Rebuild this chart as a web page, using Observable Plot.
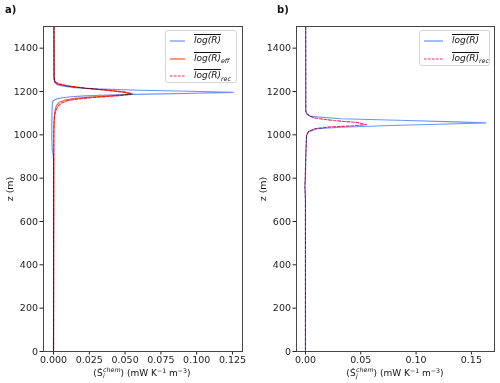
<!DOCTYPE html>
<html>
<head>
<meta charset="utf-8">
<script src="https://cdn.jsdelivr.net/npm/d3@7"></script>
<script src="https://cdn.jsdelivr.net/npm/@observablehq/plot@0.6"></script>
<style>
  body { margin: 0; background: #fff; }
  #fig { position: relative; width: 500px; height: 383px; overflow: hidden;
         font-family: "DejaVu Sans", sans-serif; color: #111; }
  #fig svg { position: absolute; top: 0; }
  .txt { position: absolute; white-space: nowrap; line-height: 1; }
  .panel { font-weight: bold; font-size: 10px; }
  .ylab { font-size: 9.5px; transform: translate(-50%, -50%) rotate(-90deg); }
  .xlab { font-size: 9px; transform: translateX(-50%); }
  .stack { display: inline-flex; flex-direction: column; vertical-align: middle;
           font-size: 6.3px; font-style: italic; line-height: 0.95; margin-left: 0.5px; position: relative; top: -1px; }
  .sup { font-size: 6.3px; position: relative; top: -3.5px; }
  .legend { position: absolute; background: rgba(255,255,255,0.85); border: 1px solid #d6d6d6;
            border-radius: 3px; box-sizing: border-box; }
  .entry { position: absolute; white-space: nowrap; font-size: 9px; line-height: 1; }
  .entry svg { position: absolute; top: 0; }
  .ov { font-style: italic; text-decoration: overline; }
  .sb { font-style: italic; font-size: 6.3px; position: relative; top: 2.5px; }
</style>
</head>
<body>
<div id="fig"></div>
<script>
// ---- Panel a: heating-rate profiles (z in m, values in mW K^-1 m^-3)
const aLogR_z = [1500, 1300, 1250, 1240, 1232, 1225, 1218, 1212, 1206, 1201, 1196, 1192, 1188, 1184, 1180, 1176, 1170, 1165, 1158, 1150, 1120, 1050, 980, 930, 910, 890, 0];
const aLogR_v = [0.0003, 0.0003, 0.0005, 0.001, 0.0025, 0.007, 0.015, 0.03, 0.06, 0.095, 0.1255, 0.1, 0.065, 0.038, 0.022, 0.012, 0.005, 0.002, 0.0, -0.0008, -0.001, -0.0012, -0.0012, -0.0009, -0.0003, 0, 0];

const aEff_z = [1500, 1260, 1245, 1235, 1225, 1215, 1205, 1197, 1190, 1185, 1180, 1174, 1168, 1160, 1150, 1135, 1110, 1080, 1000, 0];
const aEff_v = [0.0003, 0.0004, 0.001, 0.003, 0.01, 0.022, 0.038, 0.049, 0.054, 0.05, 0.04, 0.026, 0.015, 0.008, 0.004, 0.002, 0.001, 0.0005, 0.0002, 0];

const aRec_z = [1500, 1260, 1245, 1235, 1225, 1215, 1205, 1197, 1189, 1184, 1179, 1173, 1166, 1158, 1148, 1135, 1115, 1090, 1050, 1000, 0];
const aRec_v = [0.0003, 0.0004, 0.0012, 0.0035, 0.011, 0.023, 0.039, 0.05, 0.055, 0.051, 0.042, 0.029, 0.018, 0.01, 0.006, 0.0035, 0.0018, 0.0008, 0.0003, 0.0002, 0];

// ---- Panel b
const bLogR_z = [1500, 1110, 1097, 1085, 1074, 1066, 1060, 1055, 1051, 1043, 1035, 1028, 1015, 997, 900, 800, 760, 700, 0];
const bLogR_v = [0.0002, 0.0003, 0.001, 0.0045, 0.032, 0.092, 0.135, 0.163, 0.137, 0.077, 0.032, 0.0105, 0.003, 0.001, 0.0003, 0, -0.0005, 0, 0];

const bRec_z = [1500, 1110, 1100, 1090, 1078, 1066, 1057, 1047, 1041, 1037, 1029, 1017, 1000, 900, 760, 700, 0];
const bRec_v = [0.0002, 0.0003, 0.001, 0.003, 0.0075, 0.025, 0.047, 0.055, 0.041, 0.023, 0.009, 0.003, 0.001, 0.0003, -0.0005, 0, 0];

// ---- Ticks
const zTicks = [0, 200, 400, 600, 800, 1000, 1200, 1400];
const aTicks = [0, 0.025, 0.05, 0.075, 0.1, 0.125];
const bTicks = [0, 0.05, 0.10, 0.15];

const COL_LOGR = "#6f93f2";
const COL_EFF = "#ff5a22";
const COL_REC = "#e6306e";

const fig = document.getElementById("fig");

function profile(vals, zs, stroke, dashed) {
  return Plot.line(vals, {
    x: d => d,
    y: (d, i) => zs[i],
    stroke,
    strokeWidth: dashed ? 1.1 : 1.15,
    strokeDasharray: dashed ? "3,1.6" : null,
    mixBlendMode: "multiply"
  });
}

function panel({left, marginLeft, marginRight, xDomain, xTicks, xFormat, lines}) {
  const svg = Plot.plot({
    width: 250,
    height: 383,
    marginLeft,
    marginRight,
    marginTop: 26,
    marginBottom: 32,
    style: { fontFamily: "DejaVu Sans, sans-serif", fontSize: "9.5px", background: "transparent", color: "#222" },
    x: { domain: xDomain, ticks: xTicks, tickFormat: xFormat, tickSize: 3.5, tickPadding: 1.5, label: null },
    y: { domain: [0, 1500], ticks: zTicks, tickFormat: d3.format("d"), tickSize: 3.5, tickPadding: 2, label: null },
    marks: [
      ...lines,
      Plot.frame({ stroke: "#444", strokeWidth: 1 })
    ]
  });
  svg.style.left = left + "px";
  fig.appendChild(svg);
}

panel({
  left: 0, marginLeft: 43, marginRight: 8,
  xDomain: [-0.007, 0.132], xTicks: aTicks, xFormat: d3.format(".3f"),
  lines: [
    profile(aLogR_v, aLogR_z, COL_LOGR, false),
    profile(aEff_v, aEff_z, COL_EFF, false),
    profile(aRec_v, aRec_z, COL_REC, true)
  ]
});

panel({
  left: 250, marginLeft: 46, marginRight: 6,
  xDomain: [-0.0081, 0.1709], xTicks: bTicks, xFormat: d3.format(".2f"),
  lines: [
    profile(bLogR_v, bLogR_z, COL_LOGR, false),
    profile(bRec_v, bRec_z, COL_REC, true)
  ]
});

// ---- Text: panel letters, axis titles
function addText(cls, x, y, html) {
  const el = document.createElement("div");
  el.className = "txt " + cls;
  el.style.left = x + "px";
  el.style.top = y + "px";
  el.innerHTML = html;
  fig.appendChild(el);
  return el;
}

addText("panel", 5, 5, "a)");
addText("panel", 277, 5, "b)");
addText("ylab", 10, 189, "z (m)");
addText("ylab", 263, 189, "z (m)");

function xTitle(sub) {
  return "(S\u0307<span class='stack'><span>chem</span><span>" + sub + "</span></span>) (mW K<span class='sup'>\u22121</span> m<span class='sup'>\u22123</span>)";
}
addText("xlab", 142, 368, xTitle("i"));
addText("xlab", 395, 368, xTitle("j"));

// ---- Legends
function legend(x, y, w, h, items) {
  const box = document.createElement("div");
  box.className = "legend";
  Object.assign(box.style, { left: x + "px", top: y + "px", width: w + "px", height: h + "px" });
  items.forEach((it, i) => {
    const e = document.createElement("div");
    e.className = "entry";
    e.style.left = "4px";
    e.style.top = (5 + i * 17.5) + "px";
    const len = it.len;
    e.innerHTML =
      `<svg width="${len}" height="10" style="left:0"><line x1="0" x2="${len}" y1="5" y2="5" stroke="${it.color}" stroke-width="1.2" ${it.dashed ? 'stroke-dasharray="2.6,1.4"' : ""}/></svg>` +
      `<span style="position:absolute;left:${len + 9}px;top:0"><span class="ov">log(R)</span>${it.sub ? `<span class="sb">${it.sub}</span>` : ""}</span>`;
    box.appendChild(e);
  });
  fig.appendChild(box);
}

legend(165, 30, 72, 53, [
  { color: COL_LOGR, sub: "", len: 15 },
  { color: COL_EFF, sub: "eff", len: 15 },
  { color: COL_REC, sub: "rec", len: 15, dashed: true }
]);
legend(419, 30, 71, 36, [
  { color: COL_LOGR, sub: "", len: 19 },
  { color: COL_REC, sub: "rec", len: 19, dashed: true }
]);
</script>
</body>
</html>
